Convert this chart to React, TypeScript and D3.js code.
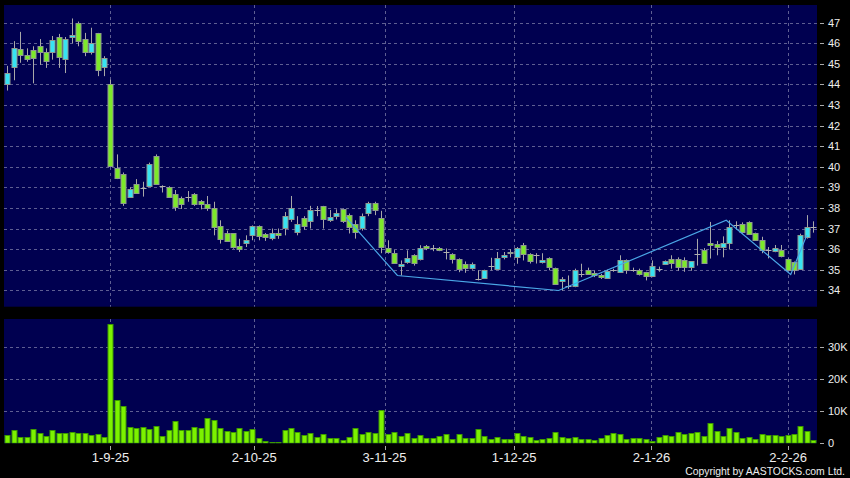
import React from "react";
import * as d3 from "d3";

const opens = [44.0,44.85,45.73,45.45,45.65,45.86,45.55,45.57,46.3,45.25,46.33,46.97,46.2,45.57,46.5,44.88,44.02,39.93,39.65,38.51,39.15,38.95,39.06,40.53,39.05,39.0,38.67,38.46,38.54,38.7,38.35,38.19,38.02,37.1,36.8,36.76,36.14,36.3,36.71,37.13,36.72,36.56,36.8,37.0,37.49,36.83,37.49,37.37,37.92,38.09,37.44,37.57,37.93,37.65,37.24,37.0,37.76,38.25,37.49,36.07,35.81,35.18,35.37,35.7,35.54,36.14,36.05,36.05,35.85,35.78,35.54,35.29,35.1,34.57,34.61,35.16,35.05,35.62,35.86,35.65,36.19,35.75,35.7,35.37,35.58,35.1,34.44,34.2,34.23,34.8,35.0,34.83,34.72,34.61,34.95,34.93,35.49,35.0,34.97,34.88,34.67,35.05,35.29,35.54,35.54,35.49,35.13,35.75,35.98,36.32,36.23,36.15,36.3,37.16,37.24,37.32,36.76,36.43,35.95,35.9,35.94,35.54,35.37,35.0,36.59,37.08];
const highs = [44.9,46.1,46.55,45.75,45.85,46.2,45.75,46.35,46.45,46.3,47.2,47.05,46.5,46.75,46.5,45.37,44.23,40.6,39.72,39.0,39.4,39.27,40.2,40.6,39.1,39.05,38.87,38.55,38.82,38.72,38.38,38.58,38.3,37.4,36.9,36.78,36.5,36.67,37.15,37.15,36.78,37.0,37.0,37.8,38.58,37.6,37.6,38.1,38.09,38.1,37.9,37.93,37.98,37.73,37.4,37.73,38.3,38.3,37.86,36.43,35.95,35.45,35.94,35.75,36.19,36.2,36.2,36.1,36.03,35.8,35.55,35.4,35.35,34.97,35.0,35.58,35.86,35.86,36.0,36.1,36.3,35.8,35.8,35.8,35.6,35.1,34.64,34.72,35.05,35.29,35.1,34.95,34.8,35.0,35.05,35.7,35.5,35.1,35.05,34.9,35.45,35.15,35.45,35.7,35.6,35.6,35.42,36.5,36.05,37.32,36.4,36.62,37.4,37.35,37.3,37.35,36.8,36.6,36.1,36.2,36.2,35.55,35.4,36.75,37.65,37.35];
const lows = [43.7,44.2,45.05,45.1,44.05,44.95,44.8,45.2,44.8,44.55,46.0,45.85,45.37,45.45,44.4,44.4,40.0,39.4,38.1,38.5,38.7,38.55,39.05,39.15,38.75,38.5,37.86,37.95,38.3,38.1,37.93,37.86,36.67,36.27,36.35,36.02,35.86,36.1,36.43,36.43,36.4,36.43,36.5,36.67,37.32,36.67,36.95,37.0,37.6,37.0,37.32,37.44,37.27,36.76,36.51,36.9,37.6,37.65,35.8,35.78,35.3,34.72,35.29,35.2,35.45,35.95,35.9,35.9,35.5,35.3,34.88,34.85,35.0,34.48,34.55,34.97,35.0,35.5,35.6,35.29,35.45,35.3,35.3,35.3,34.97,34.3,33.99,34.07,34.15,34.64,34.75,34.64,34.55,34.55,34.9,34.9,34.8,34.9,34.72,34.48,34.64,34.9,35.27,35.05,34.95,34.9,34.95,35.2,35.37,35.54,35.7,35.6,35.98,36.95,36.75,36.76,36.4,35.8,35.55,35.85,35.6,34.95,34.77,35.0,36.51,36.8];
const closes = [44.55,45.75,45.45,45.28,45.25,45.55,45.13,46.15,45.35,46.2,46.42,46.1,45.55,46.0,44.72,45.3,40.05,39.45,38.22,38.9,38.7,38.95,40.12,39.15,39.0,38.51,38.05,38.17,38.54,38.22,38.2,37.98,37.11,36.46,36.4,36.07,35.98,36.46,37.13,36.64,36.56,36.8,36.7,37.6,38.02,37.24,37.08,37.9,37.88,37.44,37.57,37.73,37.37,37.05,36.83,37.6,38.25,37.9,36.07,35.86,35.32,35.29,35.57,35.29,36.07,36.05,36.02,35.97,35.82,35.54,35.05,35.1,35.29,34.55,35.0,35.17,35.58,35.7,35.8,36.07,35.75,35.42,35.7,35.49,35.13,34.32,34.56,34.18,35.0,34.8,34.83,34.72,34.61,34.93,35.0,35.49,35.0,34.97,34.78,34.67,35.16,35.05,35.42,35.37,35.16,35.13,35.4,35.75,35.37,36.24,36.1,36.32,37.08,37.16,36.83,36.76,36.43,35.94,35.93,36.05,35.65,35.0,35.0,36.67,37.08,37.08];
const volumesK = [2.6,4.1,1.9,1.9,4.4,3.3,2.1,4.0,3.1,3.3,3.4,3.1,3.1,2.6,3.0,1.9,37.2,13.5,11.6,5.0,4.7,5.2,4.5,5.5,2.4,4.0,7.0,4.0,4.2,5.1,4.8,8.0,7.4,4.9,3.9,3.6,4.9,3.9,4.3,1.7,0.7,0.5,0.5,4.1,4.9,3.6,2.6,3.1,2.0,2.8,1.6,1.6,1.1,1.8,4.9,2.8,3.6,3.3,10.4,2.8,3.5,2.3,3.1,1.7,2.7,1.5,1.7,2.3,3.0,1.25,2.8,1.5,1.5,4.4,2.1,1.25,1.8,1.25,1.25,3.3,2.2,1.8,1.1,1.25,1.5,3.5,1.8,1.5,1.8,1.25,1.25,1.1,1.6,2.5,3.3,2.8,1.25,1.5,1.5,1.45,0.6,2.0,2.6,2.1,3.5,2.9,3.1,3.6,2.3,6.25,3.75,2.3,4.8,3.5,1.55,2.0,1.45,2.9,2.7,2.6,2.1,2.7,2.8,5.5,3.85,1.0];

const dateLabels = ["1-9-25", "2-10-25", "3-11-25", "1-12-25", "2-1-26", "2-2-26"];
const dateTickIndex = [16, 38.3, 58.5, 78.6, 99.9, 121.1];
const priceTicks = [34, 35, 36, 37, 38, 39, 40, 41, 42, 43, 44, 45, 46, 47];
const volumeTicks = [0, 10000, 20000, 30000];
const volumeTickLabels = ["0", "10K", "20K", "30K"];
const zigzagIndex = [52.5, 60.5, 85.5, 111.5, 121.5, 124];
const zigzagPrice = [37.55, 34.72, 33.99, 37.4, 34.77, 36.68];

const W = 850, H = 478;
const panelL = 4, panelR = 817;
const priceTop = 5, priceBottom = 306.7;
const volTop = 319, volBottom = 443.3;

const UP = "#37e3f2";
const DOWN = "#7de92a";
const BG = "#000050";
const GRID = "#5e5e92";

export default function App() {
  const n = closes.length;
  const x = d3.scaleLinear().domain([0, n - 1]).range([7.3, 813.3]);
  const y = d3.scaleLinear().domain([34, 47]).range([290.3, 22.6]);
  const yv = d3.scaleLinear().domain([0, 30000]).range([443.2, 347.4]);

  const zz = d3.line<number>()
    .x((_, i) => x(zigzagIndex[i]))
    .y((_, i) => y(zigzagPrice[i]));

  const cx = (i: number) => Math.round(x(i)) + 0.5;

  return (
    <svg width={W} height={H} style={{ position: "absolute", left: 0, top: 0, background: "#000" }}>
      <defs>
        <clipPath id="pclip"><rect x={panelL} y={priceTop} width={panelR - panelL} height={priceBottom - priceTop} /></clipPath>
        <clipPath id="vclip"><rect x={panelL} y={volTop} width={panelR - panelL} height={volBottom - volTop} /></clipPath>
      </defs>
      <rect x={0} y={0} width={W} height={H} fill="#000" />
      <rect x={panelL} y={priceTop} width={panelR - panelL} height={priceBottom - priceTop} fill={BG} />
      <rect x={panelL} y={volTop} width={panelR - panelL} height={volBottom - volTop} fill={BG} />

      {/* price grid */}
      {priceTicks.map((p) => (
        <line key={"pg" + p} x1={panelL} x2={panelR} y1={Math.round(y(p)) + 0.5} y2={Math.round(y(p)) + 0.5}
          stroke={GRID} strokeDasharray="3,3" strokeWidth={1} />
      ))}
      {volumeTicks.slice(1).map((v) => (
        <line key={"vg" + v} x1={panelL} x2={panelR} y1={Math.round(yv(v)) + 0.5} y2={Math.round(yv(v)) + 0.5}
          stroke={GRID} strokeDasharray="3,3" strokeWidth={1} />
      ))}
      {dateTickIndex.map((t, k) => (
        <g key={"xg" + k}>
          <line x1={cx(t)} x2={cx(t)} y1={priceTop} y2={priceBottom} stroke={GRID} strokeDasharray="3,3" />
          <line x1={cx(t)} x2={cx(t)} y1={volTop} y2={volBottom} stroke={GRID} strokeDasharray="3,3" />
          <line x1={cx(t)} x2={cx(t)} y1={446} y2={450} stroke="#aaa" />
          <text x={x(t)} y={462} fill="#eee" fontSize={13} fontFamily="Liberation Sans, Arial, sans-serif" textAnchor="middle">{dateLabels[k]}</text>
        </g>
      ))}

      {/* candles */}
      <g clipPath="url(#pclip)">
        {closes.map((c, i) => {
          const o = opens[i];
          const xc = cx(i);
          const top = Math.min(y(o), y(c));
          const bot = Math.max(y(o), y(c));
          const h = bot - top;
          const col = c > o ? UP : DOWN;
          return (
            <g key={"c" + i}>
              <line x1={xc} x2={xc} y1={y(highs[i])} y2={y(lows[i])} stroke="#a8a8a8" strokeWidth={1} />
              {h < 1.2 ? (
                <line x1={xc - 3} x2={xc + 3} y1={Math.round(top) + 0.5} y2={Math.round(top) + 0.5} stroke="#b0b0b0" strokeWidth={1.2} />
              ) : (
                <rect x={xc - 2.5} y={Math.round(top) + 0.5} width={5} height={Math.max(1, Math.round(h))}
                  fill={col} stroke="#8f9a90" strokeWidth={1} />
              )}
            </g>
          );
        })}
        <path d={zz(zigzagPrice) || ""} fill="none" stroke="#4aa6e6" strokeWidth={1.2} />
      </g>

      {/* volume */}
      <g clipPath="url(#vclip)">
        {volumesK.map((v, i) => {
          const top = yv(v * 1000);
          return (
            <rect key={"v" + i} x={cx(i) - 2.5} y={Math.round(top) + 0.5} width={5} height={Math.max(0.5, yv(0) - Math.round(top) - 0.5)}
              fill="#7cf200" stroke="#3d9a00" strokeWidth={1} />
          );
        })}
      </g>

      {/* right axis */}
      {priceTicks.map((p) => (
        <g key={"pl" + p}>
          <line x1={820} x2={824} y1={Math.round(y(p)) + 0.5} y2={Math.round(y(p)) + 0.5} stroke="#aaa" />
          <text x={828} y={y(p) + 4} fill="#eee" fontSize={11} fontFamily="Liberation Sans, Arial, sans-serif">{p}</text>
        </g>
      ))}
      {volumeTicks.map((v, k) => (
        <g key={"vl" + v}>
          <line x1={820} x2={824} y1={Math.round(yv(v)) + 0.5} y2={Math.round(yv(v)) + 0.5} stroke="#aaa" />
          <text x={828} y={yv(v) + 4} fill="#eee" fontSize={11} fontFamily="Liberation Sans, Arial, sans-serif">{volumeTickLabels[k]}</text>
        </g>
      ))}

      <text x={845} y={475} fill="#eee" fontSize={10.4} fontFamily="Liberation Sans, Arial, sans-serif" textAnchor="end">Copyright by AASTOCKS.com Ltd.</text>
    </svg>
  );
}
